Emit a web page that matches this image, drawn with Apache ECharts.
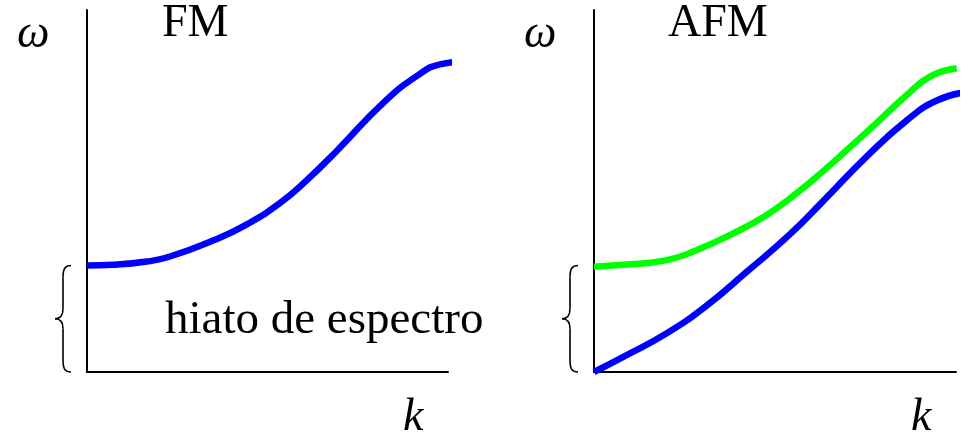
<!DOCTYPE html>
<html>
<head>
<meta charset="utf-8">
<script src="https://cdn.jsdelivr.net/npm/echarts@6/dist/echarts.min.js"></script>
<style>
  html, body { margin: 0; padding: 0; background: #fff; }
  #chart { width: 973px; height: 437px; }
</style>
</head>
<body>
<div id="chart"></div>
<script>
// Dispersion curves ω(k): ferromagnet (FM) vs antiferromagnet (AFM)
const fmK     = [0, 0.72, 1.66, 2.30, 3.49, 4.43, 5.35, 6.09, 6.93, 8.20, 9.14, 9.78, 10.61];
const fmOmega = [2.94, 2.96, 3.05, 3.19, 3.63, 4.08, 4.67, 5.30, 6.12, 7.43, 8.18, 8.50, 8.59];

const afmUpperK     = [0, 0.81, 2.01, 2.84, 3.85, 4.77, 5.60, 6.33, 6.98, 7.72, 8.64, 9.28, 10.02];
const afmUpperOmega = [2.91, 2.96, 3.09, 3.37, 3.83, 4.34, 4.94, 5.55, 6.13, 6.80, 7.65, 8.16, 8.39];

const afmLowerK     = [0, 0.81, 2.01, 3.12, 4.22, 5.41, 6.33, 7.53, 8.64, 9.47, 10.30];
const afmLowerOmega = [0, 0.42, 1.07, 1.84, 2.77, 3.80, 4.72, 5.95, 6.95, 7.50, 7.73];

const gapTop = 2.94;          // top of the spectral gap (FM curve at k = 0)
const panelTitles = ['FM', 'AFM'];
const gapLabel = 'hiato de espectro';

const pairs = (xs, ys) => xs.map((x, i) => [x, ys[i]]);

const chart = echarts.init(document.getElementById('chart'));

const axisLine = { show: true, lineStyle: { color: '#000', width: 2 } };
const baseAxis = (gi) => ({
  type: 'value', gridIndex: gi, min: 0, max: 10,
  axisLine: axisLine, axisTick: { show: false }, axisLabel: { show: false }, splitLine: { show: false }
});

const lineSeries = (gi, data, color) => ({
  type: 'line', xAxisIndex: gi, yAxisIndex: gi,
  data: data, smooth: 0.5, showSymbol: false, clip: false,
  lineStyle: { color: color, width: 6.5, cap: 'butt' }, z: 3
});

const serif = '"Liberation Serif", "DejaVu Serif", serif';

chart.setOption({
  animation: false,
  grid: [
    { left: 87, top: 10, width: 361, height: 362 },
    { left: 594, top: 10, width: 362, height: 362 }
  ],
  xAxis: [baseAxis(0), baseAxis(1)],
  yAxis: [baseAxis(0), baseAxis(1)],
  series: [
    lineSeries(0, pairs(fmK, fmOmega), '#0000ff'),
    lineSeries(1, pairs(afmUpperK, afmUpperOmega), '#00ff00'),
    lineSeries(1, pairs(afmLowerK, afmLowerOmega), '#0000ff')
  ]
});

// Curly brace built from curve and line pieces
function brace(xRight, yTop, yBot) {
  const xm = xRight - 8, xt = xRight - 16, ym = (yTop + yBot) / 2;
  const st = { stroke: '#000', lineWidth: 1.6, fill: null };
  const bz = (x1, y1, c1x, c1y, c2x, c2y, x2, y2) => ({
    type: 'bezierCurve', shape: { x1, y1, cpx1: c1x, cpy1: c1y, cpx2: c2x, cpy2: c2y, x2, y2 }, style: st
  });
  const ln = (x1, y1, x2, y2) => ({ type: 'line', shape: { x1, y1, x2, y2 }, style: st });
  return {
    type: 'group', z: 10,
    children: [
      bz(xRight, yTop, xm + 2, yTop, xm, yTop + 3, xm, yTop + 12),
      ln(xm, yTop + 12, xm, ym - 10),
      bz(xm, ym - 10, xm, ym - 3, xm - 3, ym, xt, ym),
      bz(xt, ym, xm - 3, ym, xm, ym + 3, xm, ym + 10),
      ln(xm, ym + 10, xm, yBot - 12),
      bz(xm, yBot - 12, xm, yBot - 3, xm + 2, yBot, xRight, yBot)
    ]
  };
}

const g = [];
[0, 1].forEach((gi) => {
  const origin = chart.convertToPixel({ gridIndex: gi }, [0, 0]);
  const top = chart.convertToPixel({ gridIndex: gi }, [0, gapTop]);
  const axisEnd = chart.convertToPixel({ gridIndex: gi }, [10, 10]);
  g.push(brace(origin[0] - 16, top[1], origin[1]));
  g.push({ type: 'text', left: origin[0] - 70, top: 12,
    style: { text: 'ω', font: `italic 46px ${serif}`, fill: '#000' } });
  g.push({ type: 'text', left: axisEnd[0] - 45, top: 395,
    style: { text: 'k', font: `italic 46px ${serif}`, fill: '#000' } });
  g.push({ type: 'text', left: origin[0] + (gi === 0 ? 75 : 74), top: 1,
    style: { text: panelTitles[gi], font: `46px ${serif}`, fill: '#000' } });
});
g.push({ type: 'text', left: 165, top: 297,
  style: { text: gapLabel, font: `47px ${serif}`, fill: '#000' } });

chart.setOption({ graphic: g });
</script>
</body>
</html>
